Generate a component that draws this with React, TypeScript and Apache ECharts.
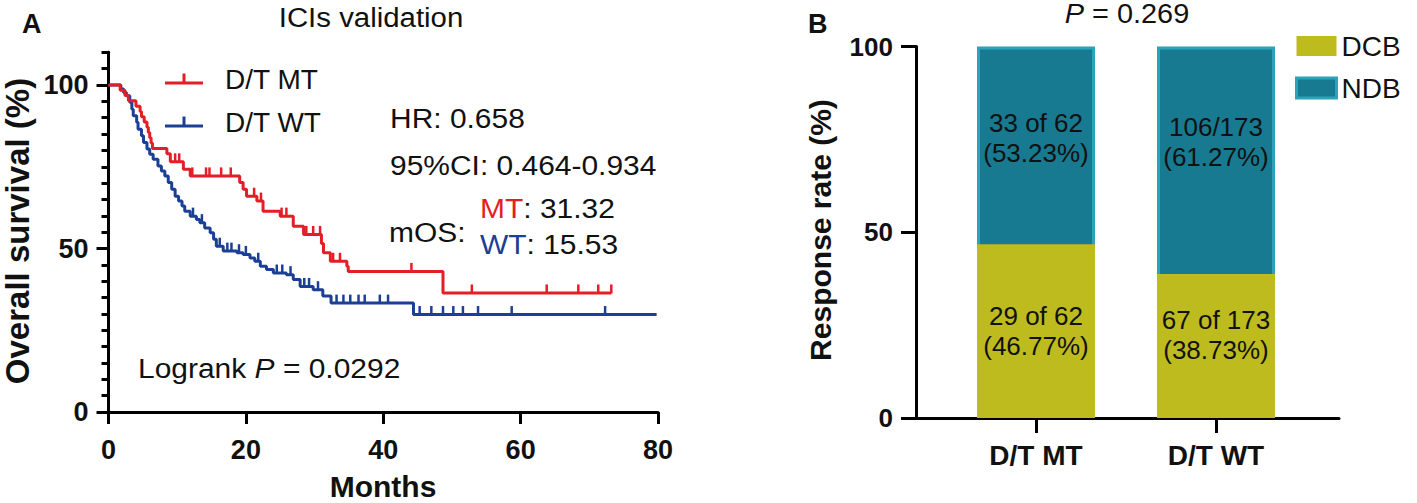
import React, { useEffect, useRef } from 'react';
import * as echarts from 'echarts';

const FONT = '"Liberation Sans", Arial, Helvetica, sans-serif';
const RED = '#e31e26';
const BLUE = '#1c3f96';
const DCB_COLOR = '#bdbb1e';
const NDB_COLOR = '#177a90';
const NDB_BORDER = '#2ba3b8';
const INK = '#111111';

// ---- Panel A: Kaplan-Meier (months, % surviving after each step) ----
const mtTime = [0, 1.7, 2.4, 2.9, 4.0, 4.6, 4.8, 5.2, 5.6, 5.8, 6.0, 6.2, 6.4, 8.5, 9.0, 10.9, 11.9, 19.1, 19.6, 20.1, 21.6, 22.5, 25.0, 26.9, 28.4, 31.0, 31.3, 32.3, 34.7, 34.9, 48.7, 73.2];
const mtSurv = [100, 98.4, 96.8, 95.2, 93.5, 91.9, 90.3, 88.7, 87.1, 85.5, 83.9, 82.3, 80.6, 79.0, 76.5, 74.2, 72.2, 70.2, 68.1, 66.0, 64.5, 61.4, 59.9, 56.8, 54.3, 51.5, 48.7, 46.1, 44.6, 43.0, 36.4, 36.4];
const wtTime = [0, 1.8, 2.2, 2.6, 3.1, 3.4, 3.6, 4.1, 4.3, 4.8, 5.1, 5.6, 6.0, 6.5, 7.2, 7.7, 8.2, 8.7, 9.2, 9.7, 10.2, 10.7, 11.1, 11.9, 12.8, 13.3, 14.0, 14.8, 15.3, 15.7, 16.7, 18.7, 19.6, 20.6, 21.3, 22.1, 23.0, 24.0, 25.9, 26.9, 27.9, 29.8, 31.2, 32.4, 44.4, 79.8];
const wtSurv = [100, 98.8, 97.7, 96.7, 94.7, 92.6, 90.6, 88.6, 86.5, 84.5, 82.4, 80.4, 78.8, 77.3, 75.2, 73.7, 72.2, 70.2, 68.1, 66.0, 64.5, 63.0, 61.4, 59.9, 58.9, 57.9, 56.3, 54.8, 52.8, 50.7, 49.2, 48.7, 48.2, 47.1, 46.1, 44.6, 43.6, 42.5, 42.0, 40.5, 38.4, 37.4, 35.5, 33.3, 29.8, 29.8];
const mtCensor = [9.7, 10.3, 12.2, 14.2, 14.7, 16.4, 17.8, 21.2, 22.2, 25.2, 25.9, 28.8, 29.8, 30.8, 32.7, 33.7, 44.1, 52.9, 63.8, 68.4, 71.3, 73.2];
const wtCensor = [12.3, 13.6, 16.2, 17.3, 17.9, 19.0, 20.0, 21.8, 24.5, 25.3, 26.5, 28.5, 29.2, 30.5, 33.2, 34.2, 35.2, 36.4, 37.3, 39.5, 40.7, 45.3, 47.0, 48.7, 50.2, 51.6, 53.8, 58.7, 72.3];
const monthTicks = [0, 20, 40, 60, 80];
const survLabelTicks = [0, 50, 100];
const survMinorTicks = [0, 5, 10, 15, 20, 25, 30, 35, 40, 45, 50, 55, 60, 65, 70, 75, 80, 85, 90, 95, 100, 105, 110];

// ---- Panel B: response (percentage bars) ----
const groups = ['D/T MT', 'D/T WT'];
const dcbPct = [46.77, 38.73];
const ndbPct = [53.23, 61.27];
const dcbText = ['29 of 62', '67 of 173'];
const ndbText = ['33 of 62', '106/173'];
const responseTicks = [0, 50, 100];

function survAt(times: number[], surv: number[], t: number) {
  let s = surv[0];
  for (let i = 0; i < times.length; i++) if (times[i] <= t) s = surv[i];
  return s;
}

const legendIcon = 'path://M0,9h38v3H0z M17.5,1h3v8h-3z';

const axisLineStyle = { color: '#000', width: 3 };

function buildOption() {
  const txt = (text: string, x: number, y: number, extra: any = {}) => ({
    type: 'text',
    x,
    y,
    rotation: extra.rotation || 0,
    scaleX: extra.scaleX || 1,
    style: {
      text,
      fontSize: extra.fontSize || 28,
      fontFamily: FONT,
      fontWeight: extra.fontWeight || 'normal',
      fill: INK,
      align: extra.align || 'left',
      verticalAlign: 'middle',
      rich: extra.rich,
    },
  });
  const richFor = (fs: number) => ({
    r: { fill: RED, fontSize: fs, fontFamily: FONT },
    b: { fill: BLUE, fontSize: fs, fontFamily: FONT },
    i: { fill: INK, fontSize: fs, fontFamily: FONT, fontStyle: 'italic' },
    n: { fill: INK, fontSize: fs, fontFamily: FONT },
  });
  const S = 1.07;

  return {
    animation: false,
    backgroundColor: '#fff',
    grid: [
      { left: 108.5, top: 52.3, width: 549.5, height: 359.7, outerBoundsMode: 'none' },
      { left: 916, top: 46.5, width: 423, height: 371.5, outerBoundsMode: 'none' },
    ],
    xAxis: [
      {
        gridIndex: 0,
        type: 'value',
        min: 0,
        max: 80,
        interval: 20,
        axisLine: { show: true, onZero: false, lineStyle: axisLineStyle },
        axisTick: { show: true, length: 12, lineStyle: axisLineStyle, customValues: monthTicks },
        axisLabel: { customValues: monthTicks, fontSize: 27, fontWeight: 'bold', color: INK, fontFamily: FONT, margin: 24 },
        splitLine: { show: false },
      },
      {
        gridIndex: 1,
        type: 'value',
        min: 1 / 3,
        max: 2.6833,
        axisLine: { show: true, onZero: false, lineStyle: axisLineStyle },
        axisTick: { show: true, length: 15, lineStyle: axisLineStyle, customValues: [1, 2] },
        axisLabel: {
          customValues: [1, 2],
          formatter: (v: number) => groups[Math.round(v) - 1] || '',
          fontSize: 28,
          fontWeight: 'bold',
          color: INK,
          fontFamily: FONT,
          margin: 23,
        },
        splitLine: { show: false },
      },
    ],
    yAxis: [
      {
        gridIndex: 0,
        type: 'value',
        position: 'left',
        min: 0,
        max: 110,
        axisLine: { show: true, onZero: false, lineStyle: axisLineStyle },
        axisTick: { show: true, length: 12, lineStyle: axisLineStyle, customValues: survLabelTicks },
        axisLabel: { customValues: survLabelTicks, fontSize: 27, fontWeight: 'bold', color: INK, fontFamily: FONT, margin: 20 },
        splitLine: { show: false },
      },
      {
        gridIndex: 0,
        type: 'value',
        position: 'left',
        min: 0,
        max: 110,
        axisLine: { show: true, onZero: false, lineStyle: axisLineStyle },
        axisTick: { show: true, length: 7, lineStyle: axisLineStyle, customValues: survMinorTicks },
        axisLabel: { show: false },
        splitLine: { show: false },
      },
      {
        gridIndex: 1,
        type: 'value',
        min: 0,
        max: 100,
        interval: 50,
        axisLine: { show: true, onZero: false, lineStyle: axisLineStyle },
        axisTick: { show: true, length: 15, lineStyle: axisLineStyle, customValues: responseTicks },
        axisLabel: { customValues: responseTicks, fontSize: 26, fontWeight: 'bold', color: INK, fontFamily: FONT, margin: 23 },
        splitLine: { show: false },
      },
    ],
    legend: [
      {
        left: 160,
        top: 59,
        orient: 'vertical',
        itemWidth: 38,
        itemHeight: 11,
        itemGap: 13,
        selectedMode: false,
        data: [
          { name: 'D/T MT', icon: legendIcon },
          { name: 'D/T WT', icon: legendIcon },
        ],
        itemStyle: { borderWidth: 0 },
        textStyle: { fontSize: 28, fontFamily: FONT, color: INK, lineHeight: 30, padding: [0, 0, 0, 17] },
      },
      {
        left: 1290,
        top: 26,
        orient: 'vertical',
        itemWidth: 40,
        itemHeight: 20,
        itemGap: 12,
        selectedMode: false,
        data: [
          { name: 'DCB', icon: 'rect', itemStyle: { borderWidth: 0 } },
          { name: 'NDB', icon: 'rect', itemStyle: { borderColor: NDB_BORDER, borderWidth: 3 } },
        ],
        textStyle: { fontSize: 28, fontFamily: FONT, color: INK, lineHeight: 30 },
      },
    ],
    series: [
      {
        name: 'D/T WT',
        type: 'line',
        xAxisIndex: 0,
        yAxisIndex: 0,
        step: 'end',
        symbol: 'none',
        color: BLUE,
        itemStyle: { color: BLUE },
        lineStyle: { color: BLUE, width: 3 },
        data: wtTime.map((t, i) => [t, wtSurv[i]]),
        z: 2,
      },
      {
        name: 'D/T MT',
        type: 'line',
        xAxisIndex: 0,
        yAxisIndex: 0,
        step: 'end',
        symbol: 'none',
        color: RED,
        itemStyle: { color: RED },
        lineStyle: { color: RED, width: 3 },
        data: mtTime.map((t, i) => [t, mtSurv[i]]),
        z: 3,
      },
      {
        name: 'WT censored',
        type: 'scatter',
        xAxisIndex: 0,
        yAxisIndex: 0,
        symbol: 'rect',
        symbolSize: [2.5, 9],
        symbolOffset: [0, -4],
        itemStyle: { color: BLUE, opacity: 1 },
        data: wtCensor.map((t) => [t, survAt(wtTime, wtSurv, t)]),
        z: 2,
      },
      {
        name: 'MT censored',
        type: 'scatter',
        xAxisIndex: 0,
        yAxisIndex: 0,
        symbol: 'rect',
        symbolSize: [2.5, 9],
        symbolOffset: [0, -4],
        itemStyle: { color: RED, opacity: 1 },
        data: mtCensor.map((t) => [t, survAt(mtTime, mtSurv, t)]),
        z: 3,
      },
      {
        name: 'NDB',
        type: 'bar',
        xAxisIndex: 1,
        yAxisIndex: 2,
        barWidth: 118,
        barGap: '-100%',
        color: NDB_COLOR,
        itemStyle: { color: NDB_COLOR, borderColor: NDB_BORDER, borderWidth: 3 },
        data: groups.map((g, i) => ({
          value: [i + 1, dcbPct[i] + ndbPct[i]],
          label: { offset: [0, i === 0 ? -94 : -90] },
        })),
        label: {
          show: true,
          position: 'inside',
          formatter: (p: any) => `${ndbText[p.dataIndex]}\n(${ndbPct[p.dataIndex].toFixed(2)}%)`,
          fontSize: 26,
          lineHeight: 30,
          fontFamily: FONT,
          color: INK,
        },
      },
      {
        name: 'DCB',
        type: 'bar',
        xAxisIndex: 1,
        yAxisIndex: 2,
        barWidth: 118,
        barGap: '-100%',
        color: DCB_COLOR,
        itemStyle: { color: DCB_COLOR, borderColor: DCB_COLOR, borderWidth: 3 },
        data: groups.map((g, i) => ({
          value: [i + 1, dcbPct[i]],
          label: { offset: [0, i === 0 ? 0 : -11] },
        })),
        label: {
          show: true,
          position: 'inside',
          formatter: (p: any) => `${dcbText[p.dataIndex]}\n(${dcbPct[p.dataIndex].toFixed(2)}%)`,
          fontSize: 26,
          lineHeight: 30,
          fontFamily: FONT,
          color: INK,
        },
      },
    ],
    graphic: {
      elements: [
        txt('A', 22, 24, { fontSize: 27, fontWeight: 'bold' }),
        txt('B', 808, 24, { fontSize: 27, fontWeight: 'bold' }),
        txt('ICIs validation', 371, 17, { fontSize: 28, align: 'center', scaleX: 1.05 }),
        txt('{i|P}{n| = 0.269}', 1127, 14, { fontSize: 27, align: 'center', rich: richFor(27), scaleX: S }),
        txt('HR: 0.658', 390, 118, { scaleX: S }),
        txt('95%CI: 0.464-0.934', 390, 165, { scaleX: S }),
        txt('mOS:', 389, 232, { scaleX: S }),
        txt('{r|MT}{n|: 31.32}', 480, 208, { rich: richFor(28), scaleX: S }),
        txt('{b|WT}{n|: 15.53}', 480, 244, { rich: richFor(28), scaleX: S }),
        txt('{n|Logrank }{i|P}{n| = 0.0292}', 138, 368, { rich: richFor(28), scaleX: S }),
        txt('Overall survival (%)', 17, 231, { fontSize: 33, fontWeight: 'bold', align: 'center', rotation: Math.PI / 2 }),
        txt('Response rate (%)', 820, 230, { fontSize: 30, fontWeight: 'bold', align: 'center', rotation: Math.PI / 2 }),
        txt('Months', 383, 486, { fontSize: 30, fontWeight: 'bold', align: 'center' }),
      ],
    },
  };
}

export default function App() {
  const ref = useRef<HTMLDivElement>(null);
  useEffect(() => {
    if (!ref.current) return;
    const chart = echarts.init(ref.current, undefined, { renderer: 'svg', width: 1417, height: 503 });
    chart.setOption(buildOption() as any);
    return () => chart.dispose();
  }, []);
  return (
    <div
      ref={ref}
      style={{ position: 'absolute', left: 0, top: 0, width: 1417, height: 503, background: '#fff' }}
    />
  );
}
